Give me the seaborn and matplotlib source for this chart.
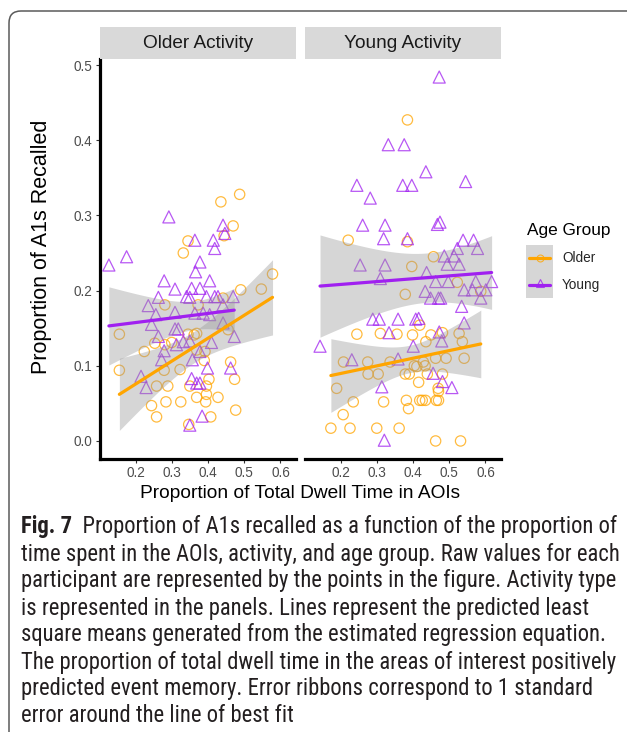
import numpy as np
import pandas as pd
import matplotlib
matplotlib.use("Agg")
import matplotlib.pyplot as plt
import seaborn as sns
from matplotlib import font_manager as fm
from matplotlib.patches import FancyBboxPatch, Rectangle
from matplotlib.lines import Line2D
import matplotlib.transforms as mtrans

# ---------------- data ----------------
panels = ["Older Activity", "Young Activity"]
groups = ["Older", "Young"]
colors = {"Older": "#FFA500", "Young": "#A020F0"}
markers = {"Older": "o", "Young": "^"}

# Older Activity panel
oa_older_x = [0.487, 0.435, 0.344, 0.331, 0.469, 0.444, 0.578, 0.490, 0.547, 0.280,
              0.372, 0.441, 0.455, 0.368, 0.154, 0.252, 0.280, 0.299, 0.344, 0.223,
              0.391, 0.389, 0.462, 0.154, 0.278, 0.322, 0.402, 0.473, 0.257, 0.288,
              0.349, 0.395, 0.368, 0.395, 0.427, 0.243, 0.283, 0.324, 0.393, 0.476,
              0.257, 0.346, 0.407, 0.361, 0.368]
oa_older_y = [0.328, 0.318, 0.266, 0.250, 0.286, 0.273, 0.222, 0.201, 0.202, 0.181,
              0.181, 0.190, 0.148, 0.143, 0.142, 0.130, 0.128, 0.131, 0.142, 0.119,
              0.119, 0.107, 0.105, 0.094, 0.094, 0.095, 0.082, 0.082, 0.073, 0.073,
              0.073, 0.073, 0.058, 0.062, 0.058, 0.047, 0.052, 0.052, 0.052, 0.041,
              0.032, 0.022, 0.032, 0.141, 0.121]
oa_young_x = [0.291, 0.363, 0.174, 0.125, 0.441, 0.446, 0.414, 0.418, 0.377, 0.365,
              0.404, 0.278, 0.308, 0.354, 0.377, 0.340, 0.349, 0.262, 0.395, 0.418,
              0.427, 0.469, 0.234, 0.441, 0.308, 0.255, 0.363, 0.386, 0.404, 0.243,
              0.441, 0.308, 0.317, 0.262, 0.472, 0.331, 0.312, 0.349, 0.409, 0.278,
              0.377, 0.271, 0.356, 0.398, 0.462, 0.214, 0.354, 0.228, 0.368, 0.377,
              0.383, 0.349]
oa_young_y = [0.298, 0.267, 0.245, 0.234, 0.287, 0.276, 0.267, 0.256, 0.238, 0.225,
              0.213, 0.213, 0.202, 0.203, 0.203, 0.192, 0.191, 0.191, 0.192, 0.192,
              0.192, 0.192, 0.180, 0.181, 0.171, 0.168, 0.170, 0.170, 0.168, 0.155,
              0.157, 0.149, 0.149, 0.139, 0.139, 0.132, 0.128, 0.133, 0.131, 0.120,
              0.119, 0.108, 0.108, 0.097, 0.097, 0.086, 0.083, 0.071, 0.077, 0.077,
              0.033, 0.021]

# Young Activity panel
ya_older_x = [0.384, 0.220, 0.384, 0.456, 0.396, 0.522, 0.378, 0.587, 0.418, 0.244,
              0.309, 0.355, 0.398, 0.449, 0.481, 0.527, 0.435, 0.536, 0.207, 0.274,
              0.336, 0.428, 0.462, 0.491, 0.541, 0.403, 0.410, 0.433, 0.275, 0.303,
              0.378, 0.389, 0.439, 0.481, 0.188, 0.415, 0.469, 0.470, 0.234, 0.318,
              0.381, 0.387, 0.418, 0.425, 0.434, 0.464, 0.470, 0.206, 0.172, 0.225,
              0.299, 0.361, 0.462, 0.531]
ya_older_y = [0.427, 0.267, 0.265, 0.245, 0.232, 0.211, 0.195, 0.199, 0.154, 0.142,
              0.143, 0.142, 0.141, 0.141, 0.144, 0.143, 0.132, 0.132, 0.105, 0.105,
              0.105, 0.105, 0.110, 0.110, 0.110, 0.100, 0.099, 0.100, 0.089, 0.089,
              0.089, 0.089, 0.089, 0.089, 0.070, 0.078, 0.070, 0.066, 0.052, 0.052,
              0.054, 0.043, 0.054, 0.054, 0.054, 0.054, 0.054, 0.035, 0.017, 0.017,
              0.017, 0.017, 0.000, 0.000]
ya_young_x = [0.472, 0.331, 0.375, 0.435, 0.244, 0.371, 0.396, 0.545, 0.281, 0.260,
              0.322, 0.467, 0.474, 0.318, 0.384, 0.538, 0.567, 0.522, 0.578, 0.486,
              0.513, 0.253, 0.322, 0.494, 0.527, 0.437, 0.309, 0.462, 0.497, 0.573,
              0.617, 0.433, 0.541, 0.564, 0.601, 0.448, 0.470, 0.476, 0.587, 0.534,
              0.288, 0.306, 0.358, 0.407, 0.415, 0.541, 0.333, 0.472, 0.479, 0.142,
              0.400, 0.230, 0.358, 0.455, 0.481, 0.507, 0.313, 0.320]
ya_young_y = [0.484, 0.394, 0.394, 0.358, 0.340, 0.340, 0.340, 0.345, 0.323, 0.287,
              0.287, 0.288, 0.291, 0.269, 0.269, 0.267, 0.267, 0.256, 0.256, 0.246,
              0.246, 0.234, 0.234, 0.235, 0.235, 0.224, 0.216, 0.212, 0.212, 0.212,
              0.212, 0.199, 0.201, 0.201, 0.201, 0.190, 0.190, 0.190, 0.190, 0.179,
              0.162, 0.162, 0.162, 0.162, 0.163, 0.157, 0.144, 0.145, 0.133, 0.126,
              0.126, 0.108, 0.109, 0.090, 0.079, 0.071, 0.072, 0.001]

# predicted least-square means (line ends) and 1-SE ribbon half widths
fit_panel = ["Older Activity", "Older Activity", "Young Activity", "Young Activity"]
fit_group = ["Older", "Young", "Older", "Young"]
fit_x0 = [0.154, 0.125, 0.172, 0.142]
fit_x1 = [0.578, 0.472, 0.587, 0.617]
fit_y0 = [0.062, 0.153, 0.087, 0.206]
fit_y1 = [0.191, 0.174, 0.129, 0.224]
se_xm = [0.37, 0.36, 0.34, 0.42]
se_0 = [0.048, 0.052, 0.049, 0.068]
se_m = [0.021, 0.019, 0.021, 0.033]
se_1 = [0.050, 0.029, 0.045, 0.049]

x_ticks = [0.2, 0.3, 0.4, 0.5, 0.6]
y_ticks = [0.0, 0.1, 0.2, 0.3, 0.4, 0.5]

caption_lines = [
    "Proportion of A1s recalled as a function of the proportion of",
    "time spent in the AOIs, activity, and age group. Raw values for each",
    "participant are represented by the points in the figure. Activity type",
    "is represented in the panels. Lines represent the predicted least",
    "square means generated from the estimated regression equation.",
    "The proportion of total dwell time in the areas of interest positively",
    "predicted event memory. Error ribbons correspond to 1 standard",
    "error around the line of best fit",
]

# ---------------- build table ----------------
frames = []
for pan, grp, xs, ys in [
    ("Older Activity", "Older", oa_older_x, oa_older_y),
    ("Older Activity", "Young", oa_young_x, oa_young_y),
    ("Young Activity", "Older", ya_older_x, ya_older_y),
    ("Young Activity", "Young", ya_young_x, ya_young_y),
]:
    frames.append(pd.DataFrame({"panel": pan, "group": grp, "dwell": xs, "recall": ys}))
df = pd.concat(frames, ignore_index=True)

# ---------------- style ----------------
sns.set_style("white")
plt.rcParams["font.family"] = ["Liberation Sans", "DejaVu Sans"]

W, H = 627, 732
fig = plt.figure(figsize=(W / 100, H / 100), dpi=100)


def fr(x0, y0, x1, y1):
    return [x0 / W, 1 - y1 / H, (x1 - x0) / W, (y1 - y0) / H]


ax_l = fig.add_axes(fr(100, 59, 295.5, 459))
ax_r = fig.add_axes(fr(305, 59, 500.5, 459))
axes = {"Older Activity": ax_l, "Young Activity": ax_r}

XLIM = (0.1004, 0.6416)
YLIM = (-0.024, 0.508)

for pan, ax in axes.items():
    sub = df[df.panel == pan]
    for g in groups:
        d = sub[sub.group == g]
        sns.scatterplot(data=d, x="dwell", y="recall", ax=ax, marker=markers[g],
                        s=55 if g == "Older" else 75, facecolor="none",
                        edgecolor=colors[g], linewidth=0.9, alpha=0.75, zorder=2)
    for i in range(len(fit_panel)):
        if fit_panel[i] != pan:
            continue
        xs = np.linspace(fit_x0[i], fit_x1[i], 120)
        yhat = np.interp(xs, [fit_x0[i], fit_x1[i]], [fit_y0[i], fit_y1[i]])
        coef = np.polyfit([fit_x0[i], se_xm[i], fit_x1[i]],
                          [se_0[i] ** 2, se_m[i] ** 2, se_1[i] ** 2], 2)
        se = np.sqrt(np.clip(np.polyval(coef, xs), 1e-6, None))
        ax.fill_between(xs, yhat - se, yhat + se, color="#999999", alpha=0.4,
                        linewidth=0, zorder=3)
        sns.lineplot(x=[fit_x0[i], fit_x1[i]], y=[fit_y0[i], fit_y1[i]], ax=ax,
                     color=colors[fit_group[i]], linewidth=2.3, zorder=4)
    ax.set_xlim(*XLIM)
    ax.set_ylim(*YLIM)
    ax.set_xticks(x_ticks)
    ax.set_xticklabels([f"{t:.1f}" for t in x_ticks])
    ax.set_xlabel("")
    ax.set_ylabel("")
    ax.set_facecolor("white")
    for sp in ["top", "right"]:
        ax.spines[sp].set_visible(False)
    ax.spines["bottom"].set_color("black")
    ax.spines["bottom"].set_linewidth(2.3)
    ax.tick_params(axis="both", which="major", length=2.75, width=0.8, color="#333333",
                   labelsize=9.8, labelcolor="#4D4D4D", pad=2.5, bottom=True, left=True)

ax_l.spines["left"].set_color("black")
ax_l.spines["left"].set_linewidth(2.3)
ax_l.set_yticks(y_ticks)
ax_l.set_yticklabels([f"{t:.1f}" for t in y_ticks])
ax_r.spines["left"].set_visible(False)
ax_r.set_yticks([])
ax_r.tick_params(axis="y", left=False, labelleft=False)

# strips
for x0, x1, lab in [(100, 295.5, panels[0]), (305, 500.5, panels[1])]:
    sa = fig.add_axes(fr(x0, 27, x1, 59))
    sa.set_xlim(0, 1)
    sa.set_ylim(0, 1)
    sa.add_patch(Rectangle((0, 0), 1, 1, facecolor="#D9D9D9", edgecolor="none"))
    sa.text(0.5, 0.5, lab, ha="center", va="center", fontsize=13.7, color="#1A1A1A")
    sa.axis("off")

# axis titles
fig.text(300 / W, 1 - 494 / H, "Proportion of Total Dwell Time in AOIs",
         ha="center", va="center", fontsize=13.8, color="black")
fig.text(42 / W, 1 - 247 / H, "Proportion of A1s Recalled", ha="center", va="center",
         rotation=90, fontsize=15.5, color="black")

# legend
fig.text(527 / W, 1 - 230 / H, "Age Group", ha="left", va="center", fontsize=12.4,
         color="black")
lax = fig.add_axes(fr(526, 245, 553, 298))
lax.set_xlim(0, 1)
lax.set_ylim(0, 2)
lax.add_patch(Rectangle((0, 0), 1, 2, facecolor="#999999", alpha=0.4, edgecolor="none"))
for yy, g in [(1.5, "Older"), (0.5, "Young")]:
    lax.add_line(Line2D([0.1, 0.9], [yy, yy], color=colors[g], linewidth=2.3))
    lax.add_line(Line2D([0.5], [yy + (0.08 if g == "Young" else 0.0)], marker=markers[g],
                        markersize=5 if g == "Older" else 6, markerfacecolor="none",
                        markeredgecolor=colors[g], markeredgewidth=0.8, alpha=0.8))
lax.axis("off")
fig.text(562 / W, 1 - 258 / H, "Older", ha="left", va="center", fontsize=9.8)
fig.text(562 / W, 1 - 285 / H, "Young", ha="left", va="center", fontsize=9.8)

# caption
names = {f.name for f in fm.fontManager.ttflist}
cap_kw = None
for cand in ["Liberation Sans Narrow", "Roboto Condensed", "Open Sans Condensed",
             "Noto Sans Condensed"]:
    if cand in names:
        cap_kw = dict(family=[cand, "DejaVu Sans"])
        break
if cap_kw is None:
    for cand in ["Roboto", "Lato", "Liberation Sans"]:
        if cand in names:
            cap_kw = dict(family=[cand, "DejaVu Sans"])
            break
if cap_kw is None:
    cap_kw = dict(family=["DejaVu Sans"])

renderer = fig.canvas.get_renderer()
target = 600.0
fs0 = 15.0
widths = []
for k, line in enumerate(caption_lines):
    if k == 0:
        tb = fig.text(0, 0, "Fig. 7", fontsize=fs0, fontweight="bold", **cap_kw)
        tr = fig.text(0, 0, "  " + line, fontsize=fs0, **cap_kw)
        widths.append(tb.get_window_extent(renderer).width +
                      tr.get_window_extent(renderer).width)
        tb.remove()
        tr.remove()
    else:
        tt = fig.text(0, 0, line, fontsize=fs0, **cap_kw)
        widths.append(tt.get_window_extent(renderer).width)
        tt.remove()
fs = fs0 * target / max(widths)

y0 = 527
for k, line in enumerate(caption_lines):
    yc = 1 - (y0 + 27 * k) / H
    if k == 0:
        t = fig.text(21 / W, yc, "Fig. 7", fontsize=fs, fontweight="bold", va="center",
                     ha="left", color="#231F20", **cap_kw)
        bb = t.get_window_extent(renderer)
        fig.text((bb.x1) / W, yc, "  " + line, fontsize=fs, va="center", ha="left",
                 color="#231F20", **cap_kw)
    else:
        fig.text(21 / W, yc, line, fontsize=fs, va="center", ha="left",
                 color="#231F20", **cap_kw)

# outer rounded frame (top-left corner visible)
frame = FancyBboxPatch((9, -60), 700, (H - 11) + 60, boxstyle="round,pad=0,rounding_size=12",
                       transform=mtrans.IdentityTransform(), facecolor="none",
                       edgecolor="#5A5A5A", linewidth=1.1)
fig.add_artist(frame)

fig.savefig("out.png", dpi=100)
